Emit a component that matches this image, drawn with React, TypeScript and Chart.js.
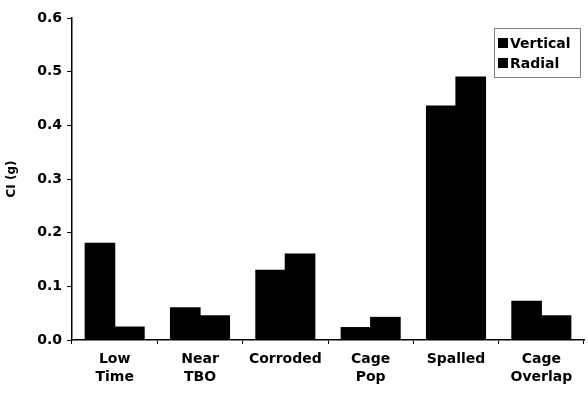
import React, { useEffect, useRef } from "react";
import { Chart, registerables } from "chart.js";
Chart.register(...registerables);

const categories = [["Low", "Time"], ["Near", "TBO"], ["Corroded"], ["Cage", "Pop"], ["Spalled"], ["Cage", "Overlap"]];
const vertical = [0.18, 0.06, 0.13, 0.023, 0.436, 0.072];
const radial = [0.024, 0.045, 0.16, 0.042, 0.49, 0.045];
const seriesNames = ["Vertical", "Radial"];
const yTitle = "CI (g)";

const FONT = "'DejaVu Sans', sans-serif";

export default function App() {
  const ref = useRef<HTMLCanvasElement>(null);
  useEffect(() => {
    if (!ref.current) return;
    const legendPlugin = {
      id: "boxLegend",
      afterDraw(chart: any) {
        const ctx = chart.ctx;
        const ca = chart.chartArea;
        const w = 86, h = 49;
        const x = ca.right - 4 - w, y = ca.top + 10;
        ctx.save();
        ctx.fillStyle = "#fff";
        ctx.fillRect(x, y, w, h);
        ctx.setLineDash([1, 1]);
        ctx.strokeStyle = "#000";
        ctx.lineWidth = 1;
        ctx.strokeRect(x + 0.5, y + 0.5, w, h);
        ctx.setLineDash([]);
        chart.data.datasets.forEach((ds: any, i: number) => {
          const cy = y + 15 + i * 20;
          ctx.fillStyle = ds.backgroundColor;
          ctx.fillRect(x + 4, cy - 5, 10, 10);
          ctx.fillStyle = "#000";
          ctx.font = `bold 14px ${FONT}`;
          ctx.textBaseline = "middle";
          ctx.textAlign = "left";
          ctx.fillText(ds.label, x + 16, cy + 1);
        });
        ctx.restore();
      },
    };
    const chart = new Chart(ref.current, {
      type: "bar",
      data: {
        labels: categories,
        datasets: [
          { label: seriesNames[0], data: vertical, backgroundColor: "#000", borderWidth: 0, inflateAmount: 0.6 },
          { label: seriesNames[1], data: radial, backgroundColor: "#000", borderWidth: 0, inflateAmount: 0.6 },
        ],
      },
      options: {
        responsive: false,
        animation: false,
        layout: { padding: { top: 18, right: 4, left: 0, bottom: 0 } },
        datasets: { bar: { categoryPercentage: 0.69, barPercentage: 1.0 } },
        plugins: { legend: { display: false }, tooltip: { enabled: false } },
        scales: {
          x: {
            grid: { display: true, drawOnChartArea: false, offset: true, tickLength: 4, color: "#000" },
            border: { display: true, color: "#000", width: 1.5 },
            ticks: {
              color: "#000",
              font: { family: FONT, size: 14, weight: "bold", lineHeight: 1.3 },
              padding: 6,
              maxRotation: 0,
              autoSkip: false,
            },
            afterFit(scale: any) { scale.height = 59; },
          },
          y: {
            min: 0,
            max: 0.6,
            grid: { display: true, drawOnChartArea: false, tickLength: 5, color: "#000" },
            border: { display: true, color: "#000", width: 1.5 },
            ticks: {
              stepSize: 0.1,
              color: "#000",
              font: { family: FONT, size: 14, weight: "bold" },
              padding: 5,
              callback: (v: any) => Number(v).toFixed(1),
            },
            title: {
              display: true,
              text: yTitle,
              color: "#000",
              font: { family: FONT, size: 12, weight: "bold" },
              padding: { top: 5, bottom: 2 },
            },
            afterFit(scale: any) { scale.width = 72; },
          },
        },
      },
      plugins: [legendPlugin],
    });
    return () => chart.destroy();
  }, []);
  return (
    <div style={{ position: "fixed", left: 0, top: 0, width: 588, height: 399, background: "#fff" }}>
      <canvas ref={ref} width={588} height={399} />
    </div>
  );
}
